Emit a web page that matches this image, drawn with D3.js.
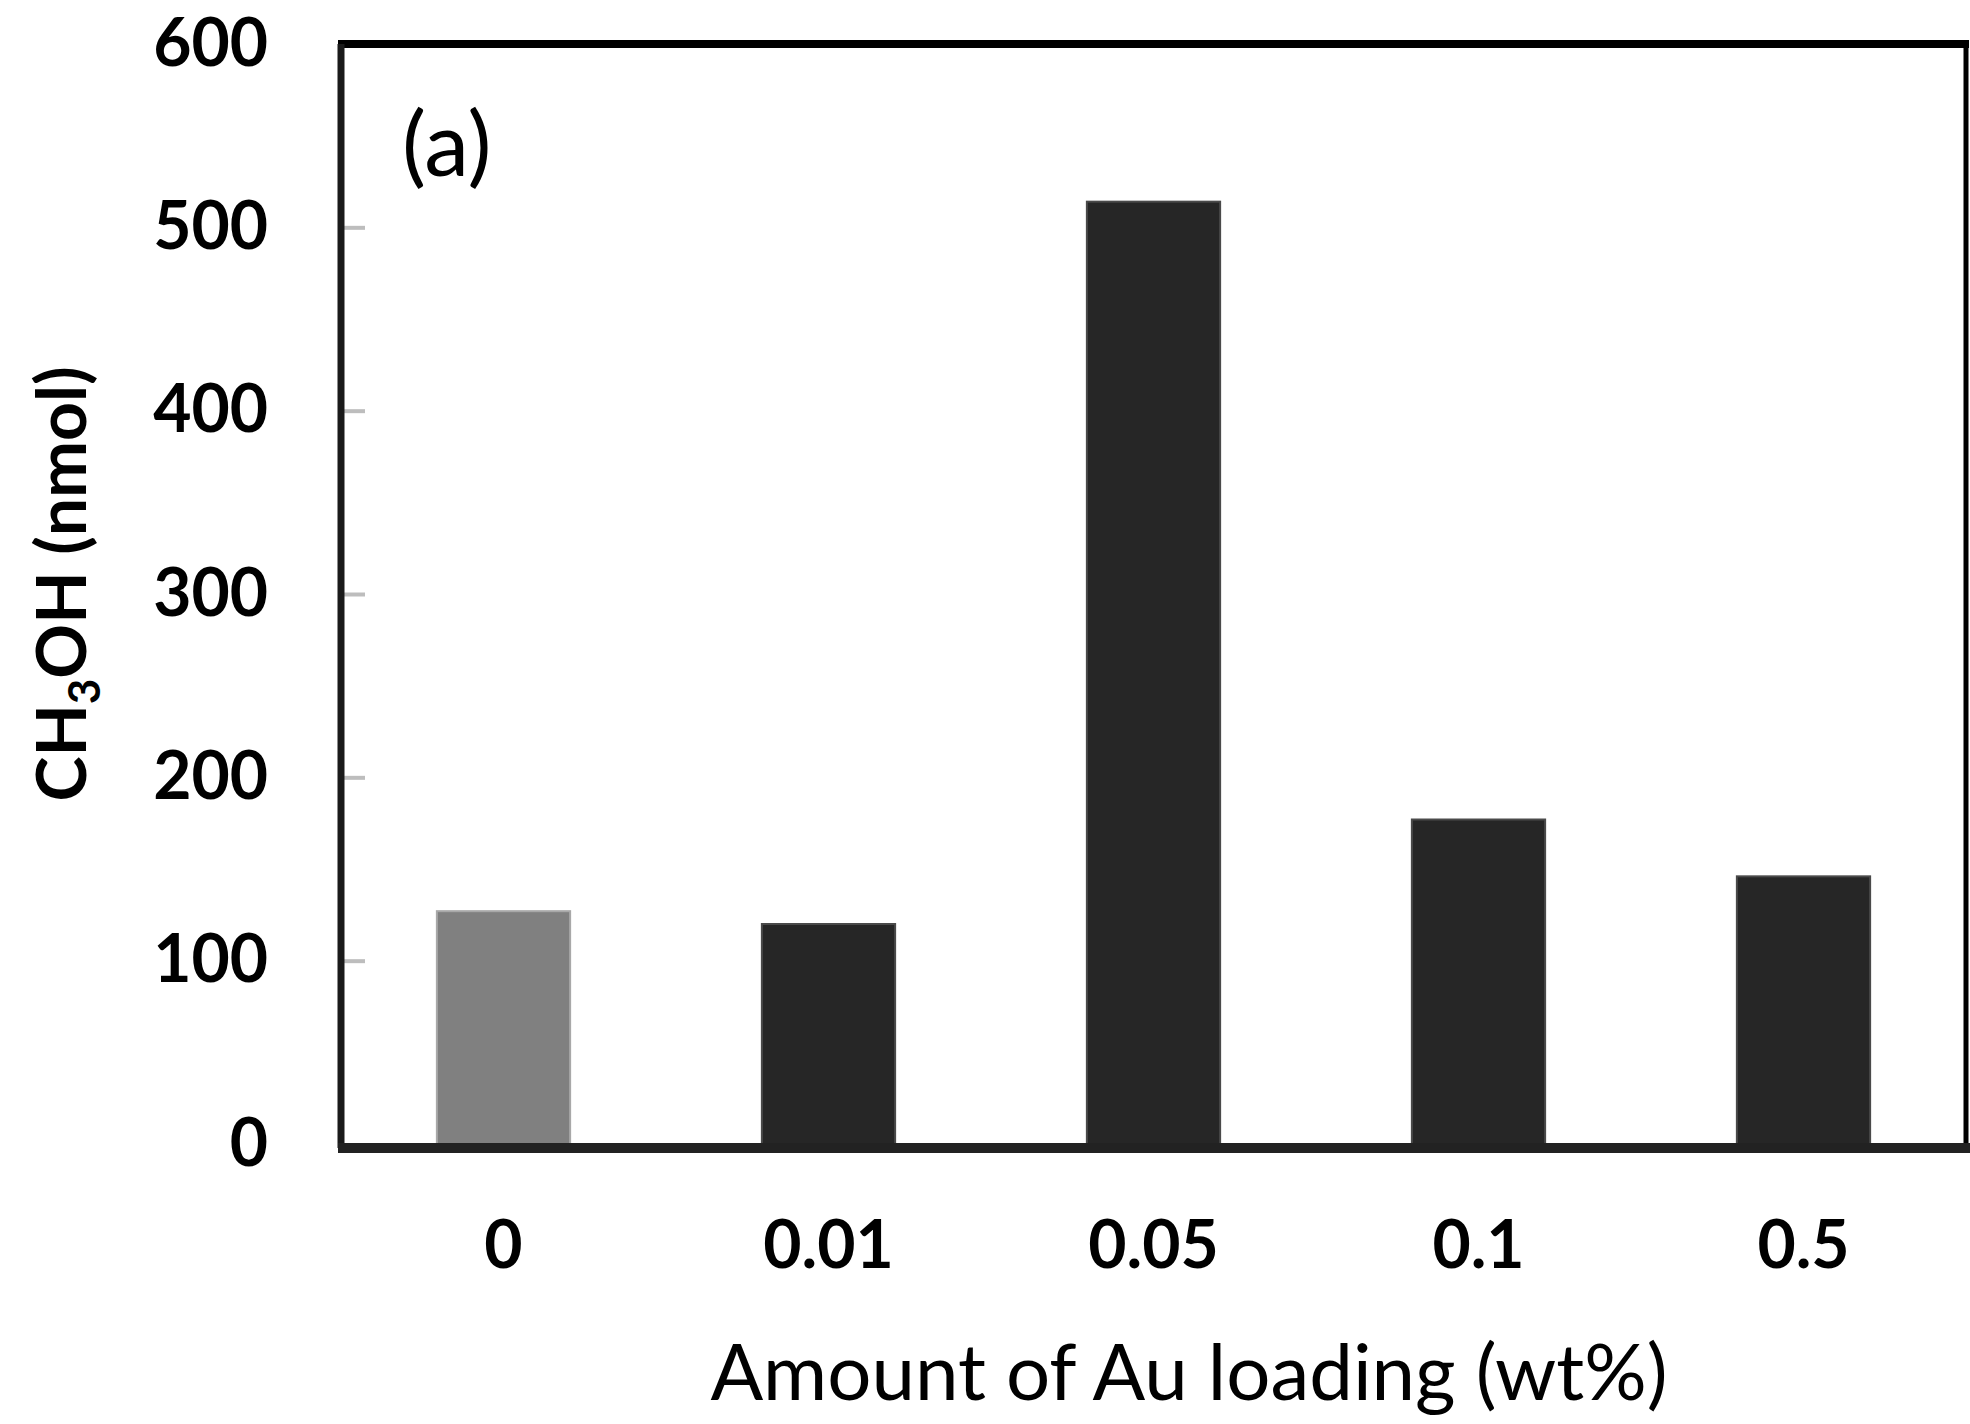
<!DOCTYPE html>
<html lang="en">
<head>
<meta charset="UTF-8">
<title>CH3OH vs Au loading</title>
<style>
    body { margin: 0; background: #fff; }
    svg text { font-family: Lato, "Open Sans", sans-serif; fill: #000; }
</style>
</head>
<body>
<svg id="main" width="1970" height="1424"></svg>

<script src="https://cdn.jsdelivr.net/npm/d3@7/dist/d3.min.js"></script>
<script>
// data
var loadings = ["0", "0.01", "0.05", "0.1", "0.5"];
var methanol = [127, 120, 514, 177, 146];
var barColors = ["#808080", "#262626", "#262626", "#262626", "#262626"];
var yTicks = [0, 100, 200, 300, 400, 500, 600];

var svg = d3.select("#main");
var plotLeft = 341, plotRight = 1966, plotTop = 44, plotBottom = 1144;

var x = d3.scaleBand()
    .domain(loadings)
    .range([plotLeft, plotRight])
    .paddingInner(0.59)
    .paddingOuter(0.295);

var y = d3.scaleLinear()
    .domain([0, 600])
    .range([plotBottom, plotTop]);

// bars
svg.selectAll("rect.bar")
    .data(loadings)
    .enter().append("rect")
    .attr("class", "bar")
    .attr("x", function(d) { return x(d); })
    .attr("width", x.bandwidth())
    .attr("y", function(d, i) { return y(methanol[i]); })
    .attr("height", function(d, i) { return y(0) - y(methanol[i]); })
    .attr("fill", function(d, i) { return barColors[i]; })
    .attr("stroke", function(d, i) { return i == 0 ? "#a8a8a8" : "#4a4a4a"; })
    .attr("stroke-width", 2);

// y axis: labels outside, little grey ticks inside
var yAxis = svg.append("g")
    .attr("transform", "translate(" + plotLeft + ",0)")
    .call(d3.axisLeft(y).tickValues(yTicks).tickSizeInner(-24).tickSizeOuter(0).tickPadding(73));
yAxis.select(".domain").remove();
yAxis.selectAll(".tick line").attr("stroke", "#bdbdbd").attr("stroke-width", 4);
yAxis.selectAll(".tick text")
    .style("font-size", "66px")
    .style("font-weight", "700")
    .attr("fill", "#000");
yAxis.selectAll(".tick").filter(function(d) { return d == 0 || d == 600; }).select("line").remove();

// x axis labels
var xAxis = svg.append("g")
    .attr("transform", "translate(0," + plotBottom + ")")
    .call(d3.axisBottom(x).tickSize(0).tickPadding(77));
xAxis.select(".domain").remove();
xAxis.selectAll(".tick text")
    .style("font-size", "66px")
    .style("font-weight", "700")
    .attr("fill", "#000");

// frame
svg.append("line")
    .attr("x1", plotLeft - 3).attr("x2", plotRight + 3)
    .attr("y1", plotTop).attr("y2", plotTop)
    .attr("stroke", "#000").attr("stroke-width", 8);
svg.append("line")
    .attr("x1", plotRight).attr("x2", plotRight)
    .attr("y1", plotTop).attr("y2", plotBottom)
    .attr("stroke", "#000").attr("stroke-width", 5);
svg.append("line")
    .attr("x1", plotLeft).attr("x2", plotLeft)
    .attr("y1", plotTop).attr("y2", plotBottom + 4)
    .attr("stroke", "#1a1a1a").attr("stroke-width", 7);
svg.append("line")
    .attr("x1", plotLeft - 3).attr("x2", 1970)
    .attr("y1", plotBottom + 4).attr("y2", plotBottom + 4)
    .attr("stroke", "#222").attr("stroke-width", 10);

// panel label
svg.append("text")
    .attr("x", 402)
    .attr("y", 176)
    .style("font-size", "90px")
    .style("font-weight", "400")
    .text("(a)");

// axis titles
svg.append("text")
    .attr("x", 1189)
    .attr("y", 1400)
    .attr("text-anchor", "middle")
    .style("font-size", "78px")
    .style("font-weight", "400")
    .text("Amount of Au loading (wt%)");

var yTitle = svg.append("text")
    .attr("transform", "translate(86,584) rotate(-90)")
    .attr("text-anchor", "middle")
    .style("font-size", "68px")
    .style("font-weight", "700");
yTitle.append("tspan").text("CH");
yTitle.append("tspan").text("3").style("font-size", "44px").attr("dy", "14");
yTitle.append("tspan").text("OH (nmol)").attr("dy", "-14");
</script>
</body>
</html>
